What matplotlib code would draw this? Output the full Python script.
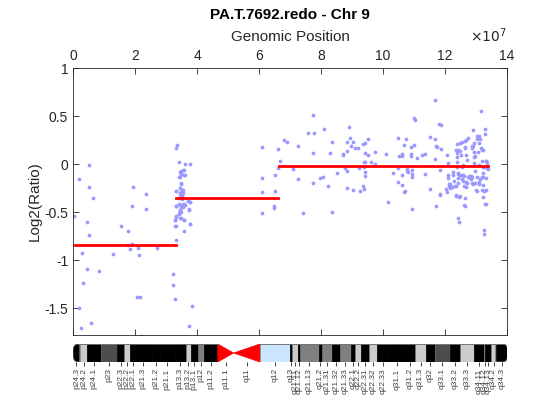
import matplotlib
matplotlib.use("Agg")
import numpy as np
import matplotlib.pyplot as plt
from matplotlib.patches import Rectangle, Polygon
from matplotlib.ticker import FuncFormatter

plt.rcParams['font.family'] = ['Liberation Sans', 'DejaVu Sans']
plt.rcParams['axes.unicode_minus'] = False

# probe positions (Mb) and log2 ratios
pos_pter = [0.3, 2.0, 2.5, 2.0, 2.8, 3.3, 4.6, 4.4, 5.1, 5.3,
            5.3, 5.8, 6.5, 8.5, 13.0, 15.4, 17.6, 17.9, 18.5, 19.0,
            19.3, 19.0, 20.7, 21.7, 21.0, 21.3, 21.8, 23.5, 23.5, 27.0]
lr_pter = [-0.54, -0.16, -1.71, -1.50, -0.93, -1.24, -0.60, -1.09, -0.01, -0.24,
           -0.74, -1.66, -0.35, -1.11, -0.94, -0.64, -0.70, -0.84, -0.88, -0.44,
           -0.24, -0.83, -1.38, -1.38, -0.87, -0.95, -1.79, -0.31, -0.47, -0.87]

pos_p13 = [32.4, 32.4, 32.9, 32.9, 33.1, 33.2, 33.1, 33.2, 33.2, 33.2,
           33.7, 34.2, 34.3, 34.5, 34.5, 34.5, 34.5, 34.3, 34.5, 34.3,
           34.5, 34.7, 34.7, 34.8, 35.1, 35.4, 35.4, 35.6, 35.6, 35.8,
           36.0, 35.8, 35.8, 36.1, 36.1, 37.2, 37.3, 37.7, 37.7, 37.7,
           38.3, 37.3, 35.2, 34.9, 35.5, 34.7, 35.8, 34.4, 34.9, 34.6,
           33.3, 34.9, 34.4, 35.5, 34.7, 33.9, 35.2, 37.1, 37.6, 33.3,
           34.7, 35.8, 34.4, 34.1, 34.9, 37.4, 33.3, 32.8, 34.7, 35.8,
           33.0, 37.6]
lr_p13 = [-1.14, -1.26, -1.41, -0.58, -0.54, -0.64, -0.79, -0.44, -0.28, 0.17,
          0.20, 0.02, -0.14, -0.08, -0.25, -0.30, -0.35, -0.42, -0.48, -0.52,
          -0.56, -0.45, -0.21, -0.10, -0.31, -0.44, -0.42, -0.27, -0.45, -0.06,
          0.00, -0.70, -0.58, -0.11, -0.43, -0.38, -0.47, 0.00, -0.40, -0.62,
          -1.48, -1.69, -0.33, -0.07, -0.06, -0.09, -0.11, -0.14, -0.20, -0.25,
          -0.28, -0.29, -0.31, -0.305, -0.33, -0.35, -0.36, -0.38, -0.40, -0.44,
          -0.43, -0.42, -0.48, -0.51, -0.50, -0.48, -0.55, -0.58, -0.56, -0.58,
          -0.64, -0.62]

pos_cen = [60.9, 60.9, 60.9, 60.9, 64.9, 64.9, 65.2, 65.2, 66.2, 66.2]
lr_cen = [0.18, -0.15, -0.29, -0.51, -0.44, -0.46, -0.28, -0.11, -0.04, 0.16]

pos_q = [66.8, 68.2, 68.9, 71.1, 72.5, 72.5, 74.3, 75.7, 77.5, 77.6,
         77.5, 77.5, 79.7, 80.7, 80.9, 82.1, 82.9, 83.7, 83.7, 85.1,
         87.0, 87.2, 87.7, 88.3, 88.3, 88.5, 88.3, 89.0, 89.4, 89.6,
         90.4, 90.4, 91.0, 92.0, 92.4, 92.7, 93.5, 93.7, 94.0, 94.0,
         94.3, 93.9, 94.2, 94.2, 94.2, 94.1, 95.1, 95.3, 96.0, 97.4,
         97.4, 101.5, 100.9, 103.3, 104.9, 105.1, 104.8, 104.8, 106.0, 106.2,
         106.2, 106.2, 106.8, 106.9, 107.2, 107.5, 107.6, 107.8, 108.2, 108.9,
         108.9, 109.1, 109.2, 109.5, 109.4, 109.4, 110.0, 110.4, 110.1, 111.0,
         112.6, 113.7, 113.7, 115.2, 115.1, 116.7, 116.7, 116.9, 117.1, 117.4,
         117.2, 118.1, 118.8, 118.3, 118.3, 118.7, 120.2, 120.5, 120.7, 120.9,
         121.1, 121.1, 121.2, 121.3, 121.6, 122.7, 122.7, 123.0, 123.4, 123.5,
         123.7, 123.8, 123.8, 123.8, 123.8, 124.0, 124.1, 124.3, 124.3, 124.6,
         124.6, 124.8, 124.8, 125.1, 125.4, 125.4, 125.6, 125.9, 126.2, 126.5,
         126.5, 126.5, 126.5, 126.7, 126.8, 126.8, 127.0, 127.5, 127.8, 128.1,
         128.3, 128.6, 128.6, 128.7, 129.1, 129.1, 129.4, 129.4, 129.5, 129.4,
         129.7, 130.0, 130.2, 130.4, 130.7, 131.0, 131.1, 131.1, 131.3, 131.5,
         131.6, 131.9, 131.8, 132.0, 132.4, 132.4, 132.7, 132.5, 132.7, 132.7,
         132.9, 132.9, 133.1, 133.4, 133.1, 133.2, 133.2, 133.4, 133.9, 132.4,
         124.1, 125.4, 126.8, 126.5, 128.8, 130.2, 131.0, 129.7, 132.4, 131.8,
         133.2, 121.6, 123.2, 124.3, 125.7, 126.1, 127.0, 128.9, 129.7, 131.1,
         132.1, 118.4, 122.2, 123.5, 124.8, 126.2, 130.2, 132.9, 124.3, 124.8,
         125.9, 127.5, 128.3, 131.3, 132.1]
lr_q = [0.03, 0.25, 0.23, -0.05, 0.19, -0.16, -0.51, 0.32, 0.51, 0.32,
        0.11, -0.20, -0.15, -0.135, 0.37, -0.23, 0.11, 0.23, -0.50, -0.09,
        0.09, 0.10, -0.04, 0.23, -0.25, -0.07, 0.14, 0.39, 0.27, 0.19,
        0.23, -0.27, 0.17, 0.17, -0.04, -0.28, 0.21, -0.23, -0.26, 0.02,
        0.02, -0.03, 0.11, -0.08, -0.12, 0.22, 0.26, 0.09, 0.02, 0.13,
        0.00, -0.40, 0.10, -0.09, 0.27, 0.08, -0.04, -0.19, 0.10, 0.08,
        -0.11, -0.22, 0.20, -0.29, -0.28, 0.26, -0.05, -0.07, -0.08, 0.18,
        0.10, 0.08, -0.06, -0.10, -0.13, -0.47, 0.48, 0.46, 0.20, 0.06,
        0.09, 0.10, -0.10, 0.28, -0.26, 0.67, 0.26, 0.05, 0.19, 0.18,
        -0.44, 0.42, 0.41, -0.06, -0.32, 0.16, -0.26, -0.29, 0.09, 0.01,
        -0.11, -0.15, -0.21, -0.23, -0.25, -0.08, -0.11, -0.18, -0.33, -0.23,
        0.15, 0.12, 0.07, 0.02, -0.03, 0.21, -0.10, -0.15, -0.56, -0.60,
        -0.34, 0.22, 0.14, 0.09, -0.03, -0.11, -0.16, -0.01, -0.12, 0.24,
        0.18, -0.44, -0.35, 0.09, -0.24, -0.19, 0.04, 0.27, -0.12, -0.15,
        -0.16, -0.14, 0.17, -0.20, 0.35, 0.19, 0.22, 0.13, 0.07, 0.01,
        -0.07, -0.27, -0.14, 0.29, 0.13, 0.22, -0.19, -0.01, 0.26, 0.55,
        0.17, -0.14, -0.27, 0.15, -0.34, -0.03, -0.03, -0.69, -0.73, -0.28,
        0.37, 0.31, 0.03, 0.01, -0.15, -0.42, -0.27, -0.04, -0.05, -0.09,
        0.145, 0.23, 0.25, 0.17, 0.19, 0.26, 0.29, 0.085, 0.15, 0.03,
        0.03, -0.21, -0.225, -0.20, -0.18, -0.225, -0.20, -0.21, -0.20, -0.21,
        -0.22, -0.31, -0.24, -0.32, -0.33, -0.43, -0.28, -0.42, -0.09, -0.11,
        -0.11, -0.14, -0.12, -0.16, -0.14]

# segment means
seg_start = [0.6, 33.1, 66.5]
seg_end = [33.1, 66.2, 133.8]
seg_mean = [-0.84, -0.357, -0.018]

# chr9 cytobands (hg18), Mb
band_name = ['p24.3', 'p24.2', 'p24.1', 'p23', 'p22.3', 'p22.2', 'p22.1', 'p21.3', 'p21.2',
             'p21.1', 'p13.3', 'p13.2', 'p13.1', 'p12', 'p11.2', 'p11.1', 'q11', 'q12',
             'q13', 'q21.11', 'q21.12', 'q21.13', 'q21.2', 'q21.31', 'q21.32', 'q21.33',
             'q22.1', 'q22.2', 'q22.31', 'q22.32', 'q22.33', 'q31.1', 'q31.2', 'q31.3',
             'q32', 'q33.1', 'q33.2', 'q33.3', 'q34.11', 'q34.12', 'q34.13', 'q34.2',
             'q34.3']
band_start = [0.0, 2.2, 4.6, 9.0, 14.1, 16.6, 18.5, 19.9, 25.5, 28.1,
              32.8, 36.3, 38.0, 40.3, 42.4, 46.7, 51.8, 60.3, 70.0, 70.5,
              72.7, 73.1, 79.3, 80.3, 83.4, 86.1, 89.6, 91.0, 93.0, 95.6,
              98.2, 101.6, 107.2, 110.3, 113.9, 116.7, 121.5, 124.8, 129.3, 132.5,
              133.0, 134.9, 136.4]
band_end = band_start[1:] + [140.27]
band_stain = ['gneg', 'gpos25', 'gneg', 'gpos75', 'gneg', 'gpos25', 'gneg', 'gpos100',
              'gneg', 'gpos100', 'gneg', 'gpos25', 'gneg', 'gpos50', 'gneg', 'acen',
              'acen', 'gvar', 'gneg', 'gpos25', 'gneg', 'gpos50', 'gneg', 'gpos50',
              'gneg', 'gpos50', 'gneg', 'gpos25', 'gneg', 'gpos25', 'gneg', 'gpos100',
              'gneg', 'gpos25', 'gneg', 'gpos75', 'gneg', 'gpos25', 'gneg', 'gpos25',
              'gneg', 'gpos25', 'gneg']

stain_col = {'gneg': (0, 0, 0), 'gpos25': (0.8, 0.8, 0.8), 'gpos50': (0.5, 0.5, 0.5),
             'gpos75': (0.3, 0.3, 0.3), 'gpos100': (0, 0, 0), 'gvar': (0.8, 0.9, 1.0),
             'acen': (1, 0, 0)}
dark = (0.15, 0.15, 0.15)
edge = (0.45, 0.45, 0.45)

fig = plt.figure(figsize=(5.6, 4.2), dpi=100)
ax = fig.add_axes([73 / 560, 85 / 420, 434 / 560, 267 / 420])

mb = 1e6
for p, l in [(pos_pter, lr_pter), (pos_p13, lr_p13), (pos_cen, lr_cen), (pos_q, lr_q)]:
    ax.plot(np.array(p) * mb, l, 'o', color=(0.6, 0.6, 1.0), markersize=2.7,
            markeredgewidth=0)
for s, e, m in zip(seg_start, seg_end, seg_mean):
    ax.plot([s * mb, e * mb], [m, m], '-', color='red', lw=2)

ax.set_xlim(0, 14e7)
ax.set_ylim(-1.78, 1)
ax.set_xticks(np.arange(0, 15e7, 2e7))
ax.xaxis.set_major_formatter(FuncFormatter(lambda v, i: '%g' % (v / 1e7)))
ax.set_yticks([-1.5, -1, -0.5, 0, 0.5, 1])
ax.set_yticklabels(['-1.5', '-1', '-0.5', '0', '0.5', '1'])
ax.xaxis.tick_top()
ax.xaxis.set_label_position('top')
ax.tick_params(which='both', direction='in', top=True, bottom=True, left=True, right=True,
               labeltop=True, labelbottom=False, length=4, width=0.6, colors=dark,
               labelsize=10)
for sp in ax.spines.values():
    sp.set_color(dark)
    sp.set_linewidth(0.6)
ax.set_xlabel('Genomic Position', fontsize=11, color=dark, labelpad=6)
ax.set_ylabel('Log2(Ratio)', fontsize=11, color=dark, labelpad=2)
ax.set_title('PA.T.7692.redo - Chr 9', fontsize=11, fontweight='bold', pad=8)
ax.text(1.0, 1.085, r'$\times10^{7}$', transform=ax.transAxes, ha='right', va='bottom',
        fontsize=10, color=dark)

# chromosome ideogram
ic = fig.add_axes([73 / 560, 58 / 420, 434 / 560, 18 / 420])
ic.set_xlim(0, 14e7)
ic.set_ylim(0, 1)
rx, ry = 1.5e6, 0.35
t = np.linspace(0, np.pi / 2, 12)
for i, (s, e, st) in enumerate(zip(band_start, band_end, band_stain)):
    s, e = s * mb, e * mb
    c = stain_col[st]
    if st == 'acen':
        if band_name[i].startswith('p'):
            pts = [(s, 0), (s, 1), (e, 0.5)]
        else:
            pts = [(s, 0.5), (e, 1), (e, 0)]
        ic.add_patch(Polygon(pts, closed=True, facecolor=c, edgecolor=c, lw=0.5))
    elif i == 0:
        xs = list(s + rx - rx * np.sin(t)) + list(s + rx - rx * np.cos(t))
        ys = list(ry - ry * np.cos(t)) + list(1 - ry + ry * np.sin(t))
        pts = [(e, 0)] + list(zip(xs, ys)) + [(e, 1)]
        ic.add_patch(Polygon(pts, closed=True, facecolor=c, edgecolor=edge, lw=0.6))
    elif i == len(band_start) - 1:
        xs = list(e - rx + rx * np.sin(t)) + list(e - rx + rx * np.cos(t))
        ys = list(ry - ry * np.cos(t)) + list(1 - ry + ry * np.sin(t))
        pts = [(s, 0)] + list(zip(xs, ys)) + [(s, 1)]
        ic.add_patch(Polygon(pts, closed=True, facecolor=c, edgecolor=edge, lw=0.6))
    else:
        ec = c if c == (0, 0, 0) else edge
        ic.add_patch(Rectangle((s, 0), e - s, 1, facecolor=c, edgecolor=ec, lw=0.5))

# outline along the arms
p_end = band_start[band_stain.index('acen')] * mb
q_start = band_end[len(band_stain) - 1 - band_stain[::-1].index('acen')] * mb
for x0, x1 in [(rx, p_end), (q_start, band_end[-1] * mb - rx)]:
    ic.plot([x0, x1], [1, 1], color=edge, lw=0.6)
    ic.plot([x0, x1], [0, 0], color=edge, lw=0.6)

centres = [(s + e) / 2 * mb for s, e in zip(band_start, band_end)]
ic.set_xticks(centres)
ic.set_xticklabels(band_name)
ic.set_yticks([])
for sp in ic.spines.values():
    sp.set_visible(False)
ic.tick_params(axis='x', direction='out', length=3, width=0.7, pad=1.5, labelsize=6,
               labelrotation=90, colors=(0.25, 0.25, 0.25))

fig.savefig('out.png', dpi=100, facecolor='white')
